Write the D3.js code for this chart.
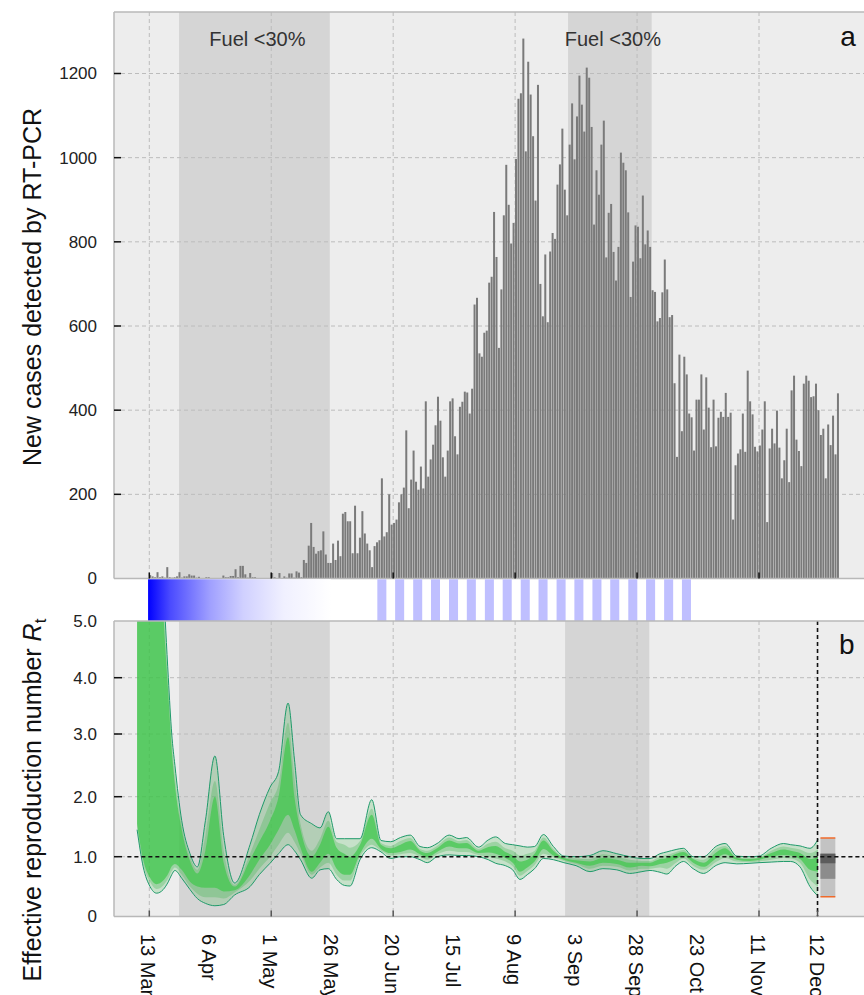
<!DOCTYPE html>
<html><head><meta charset="utf-8">
<script src="https://cdn.jsdelivr.net/npm/d3@7"></script>
<style>body{margin:0;background:#fff}svg{display:block}text{font-family:"Liberation Sans",Arial,Helvetica,sans-serif}</style>
</head><body><svg id="c" width="864" height="995"></svg>
<script>
// ---------- DATA ----------
// daily new cases (day 0 = 13 Mar)
const newCases = [
 8,5,3,15,3,5,2,27,3,2, 3,5,15,2,5,5,10,7,7,2, 4,1,0,3,3,1,0,1,1,0, 7,3,3,6,6,22,3,30,30,10,
 2,13,3,3,1,1,0,1,0,0, 13,3,1,13,1,5,2,12,12,2, 17,14,3,
 44,37,78,132,75,59,65,67,112,57, 37,37,83,44,90,53,154,158,136,136, 60,173,60,97,160,107,83,
 67,27,77,86,91,238,100,110,200,128, 132,140,181,200,216,352,167,235,304,230, 211,266,214,421,242,283,318,364,432,375,
 288,242,304,421,428,338,295,408,420,444, 442,392,451,
 651,667,535,527,584,589,703,717,871,764, 548,687,863,983,888,796,845,997,1140,1153,
 1283,1015,1228,1150,1051,898,1173,700,623,770, 609,777,821,807,936,984,1069,924,863,1031,
 1129,996,1098,1195,1126,1062,1214,1190,1073,841, 970,912,1031,1088,763,869,890,776,708,788,
 1012,988,970,870,669,753,839,836,761,910, 794,827,788,685,681,611,619,680,758,687,
 621,626,464,289,532,350,527,485,392,383, 304,425,425,485,354,478,406,312,425,314,
 382,396,384,441,384,394,140,269,297,307, 392,301,494,421,390,313,302,316,354,421,
 134,309,356,321,399,311,238,281,356,229, 447,482,330,303,267,463,482,470,431,433,
 463,400,341,356,238,366,317,387,295,440
];
const caseTicks = [200,400,600,800,1000,1200];

// Effective reproduction number quantile bands
const rtDay = [-5,-2.5,0.3,3,5.7,7.8,9.2,10.5,13.3,16.7, 19.7,23,26.9,30.5,35,41.3,45.1,49.5,53,56.9,
 59.5,62,66.6,70,73.4,76.8,80,82.3,86.4,91.2, 95,
 99,103,107,111,114,118,123,127,130,135, 139,142,146,149,152,155,158,161.6,165.7,170,
 175,180.7,186,191.7,197,202,205.3,209.4,212.2,216, 219,223,227.2,232.7,236.1,240.9,246.3,250,255,260,
 263,266.8,270.9,274.2];
const rtLo95 = [1.45,0.83,0.5,0.39,0.45,0.58,0.7,0.77,0.64,0.45, 0.3,0.22,0.18,0.2,0.36,0.5,0.7,0.89,1.05,1.2,
 1.1,0.95,0.64,0.78,0.8,0.62,0.52,0.51,0.95,1.15, 1.08,
 0.97,1.0,1.0,0.95,0.9,1.0,1.03,1.02,1.02,1.0, 0.95,0.89,0.85,0.78,0.62,0.7,0.8,0.97,0.95,0.9,
 0.85,0.75,0.8,0.78,0.72,0.75,0.77,0.74,0.71,0.85, 0.92,0.8,0.72,0.86,0.9,0.88,0.89,0.9,0.91,0.92,
 0.92,0.83,0.5,0.34];
const rtLo75 = [1.5,0.88,0.58,0.46,0.52,0.64,0.76,0.82,0.7,0.5, 0.38,0.32,0.32,0.3,0.4,0.6,0.8,1.0,1.2,1.4,
 1.25,1.05,0.7,0.82,0.9,0.7,0.6,0.6,1.0,1.2, 1.1,
 1.02,1.04,1.06,1.0,0.95,1.04,1.1,1.08,1.08,1.03, 1.0,0.97,0.92,0.84,0.68,0.76,0.86,1.05,0.99,0.93,
 0.88,0.8,0.85,0.83,0.77,0.8,0.8,0.82,0.8,0.9, 0.97,0.85,0.78,0.92,0.98,0.92,0.91,0.92,0.95,0.98,
 0.97,0.9,0.62,0.5];
const rtLo50 = [1.55,0.95,0.65,0.54,0.6,0.72,0.84,0.88,0.78,0.58, 0.5,0.48,0.48,0.42,0.44,0.7,0.95,1.2,1.45,1.7,
 1.45,1.15,0.75,0.9,1.05,0.8,0.7,0.7,1.05,1.3, 1.13,
 1.06,1.08,1.12,1.04,0.99,1.08,1.17,1.14,1.14,1.06, 1.07,1.05,0.98,0.9,0.75,0.82,0.92,1.13,1.02,0.95,
 0.9,0.85,0.9,0.88,0.82,0.85,0.84,0.88,0.9,0.96, 1.02,0.9,0.83,0.98,1.04,0.95,0.93,0.95,1.0,1.03,
 1.02,0.96,0.78,0.75];
const rtHi50 = [12,12,11,8,5.2,3.7,2.75,2.2,1.45,0.93, 0.72,1.1,2.0,0.9,0.5,0.95,1.25,1.6,2.0,2.95,
 2.0,1.45,1.0,1.2,1.5,1.15,1.05,1.0,1.2,1.7, 1.2,
 1.14,1.2,1.26,1.1,1.06,1.14,1.27,1.22,1.23,1.1, 1.16,1.18,1.08,1.02,0.92,0.95,1.05,1.27,1.1,0.98,
 0.94,0.92,0.98,0.95,0.9,0.9,0.9,0.96,0.98,1.05, 1.08,0.96,0.9,1.08,1.14,0.98,0.96,0.98,1.06,1.12,
 1.1,1.06,0.96,1.0];
const rtHi75 = [12.5,12.5,11.5,8.5,5.5,3.85,2.88,2.35,1.52,1.0, 0.78,1.35,2.25,1.1,0.53,1.05,1.45,1.9,2.2,3.2,
 2.3,1.55,1.1,1.3,1.6,1.25,1.2,1.15,1.26,1.8, 1.23,
 1.18,1.26,1.31,1.13,1.1,1.18,1.32,1.26,1.28,1.13, 1.22,1.25,1.14,1.1,1.02,1.05,1.1,1.32,1.13,0.99,
 0.97,0.96,1.04,1.0,0.95,0.93,0.93,1.0,1.03,1.08, 1.11,0.98,0.95,1.14,1.18,1.0,0.98,0.99,1.1,1.17,
 1.15,1.12,1.06,1.12];
const rtHi95 = [13,13,12,9,5.8,4.0,3.0,2.5,1.6,1.05, 0.83,1.6,2.65,1.35,0.56,1.2,1.7,2.15,2.4,3.55,
 2.6,1.7,1.55,1.48,1.75,1.3,1.3,1.3,1.3,1.95, 1.27,
 1.25,1.32,1.36,1.17,1.15,1.22,1.36,1.3,1.32,1.16, 1.28,1.33,1.22,1.2,1.18,1.16,1.17,1.37,1.17,1.01,
 1.0,1.02,1.1,1.05,1.0,0.97,0.97,1.05,1.08,1.12, 1.14,1.0,1.0,1.18,1.22,1.01,1.0,1.01,1.14,1.22,
 1.2,1.18,1.14,1.29];
const rtTicks = [0,1,2,3,4,5];
const rtTickLabels = ["0","1.0","2.0","3.0","4.0","5.0"];

// projection box at the end (R quantiles)
const projDays = [275.2, 281.3];
const projQ = {lo95:0.33, lo75:0.63, lo50:0.89, hi50:1.05, hi75:1.05, hi95:1.31};

// date axis
const tickDays = [0,25,50,75,100,125,150,175,200,225,250,274];
const tickLabels = ["13 Mar","6 Apr","1 May","26 May","20 Jun","15 Jul","9 Aug","3 Sep","28 Sep","23 Oct","11 Nov","12 Dec"];
const gridDays = [0,50,100,150,200,250];
const lastDay = 274;

// periods with fuel < 30%
const fuelTop = [[12.2,74],[171.7,206]];
const fuelBot = [[12.2,74],[170.5,205]];
const fuelLabel = "Fuel <30%";

// intervention strip: gradient then weekly stripes
const gradRange = [-0.5, 74.5];
const gradStops = [[0,"#0000ff"],[0.12,"#4a4aff"],[0.34,"#a0a0ff"],[0.52,"#d0d0ff"],[0.74,"#f0f0ff"],[1,"#ffffff"]];
const stripeStarts = [93.5,100.8,108.2,115.5,122.9,130.2,137.6,144.9,152.3,159.6,167.0,174.3,181.7,189.0,196.4,203.7,211.1,218.4];
const stripeLen = 3.7;

// ---------- DRAW ----------
const svg = d3.select('#c');
const x = d3.scaleLinear().domain([0,250]).range([149.3,759.0]);
const topP = {l:114,t:12,b:578.5,r:864};
const botP = {l:114,t:621,b:916.5,r:864};
const yTop = d3.scaleLinear().domain([0,1200]).range([topP.b,73.5]);
const yBot = d3.scaleLinear().domain([0,1,2,3,4,5]).range([916.5,856.7,796.7,734,677.7,621]);

const BG = "#ededed", SHADE = "#d5d5d5", GRID = "#bcbcbc", FRAME = "#b8b8b8";
const defs = svg.append('defs');
defs.append('clipPath').attr('id','clipB').append('rect')
  .attr('x',botP.l).attr('y',botP.t).attr('width',botP.r-botP.l).attr('height',botP.b-botP.t);
const lg = defs.append('linearGradient').attr('id','grad').attr('gradientUnits','userSpaceOnUse')
  .attr('x1',x(gradRange[0])).attr('x2',x(gradRange[1])).attr('y1',0).attr('y2',0);
lg.selectAll('stop').data(gradStops).join('stop').attr('offset',d=>d[0]).attr('stop-color',d=>d[1]);

function panelBase(P, fuel, yScale, yVals){
  const g = svg.append('g');
  g.append('rect').attr('x',P.l).attr('y',P.t).attr('width',P.r-P.l).attr('height',P.b-P.t).attr('fill',BG);
  g.selectAll('rect.fuel').data(fuel).join('rect').attr('class','fuel')
    .attr('x',d=>x(d[0])).attr('width',d=>x(d[1])-x(d[0])).attr('y',P.t).attr('height',P.b-P.t).attr('fill',SHADE);
  g.selectAll('line.hg').data(yVals).join('line').attr('class','hg')
    .attr('x1',P.l).attr('x2',P.r).attr('y1',d=>yScale(d)).attr('y2',d=>yScale(d))
    .attr('stroke',GRID).attr('stroke-width',1).attr('stroke-dasharray','4,3');
  g.selectAll('line.vg').data(gridDays).join('line').attr('class','vg')
    .attr('x1',d=>x(d)).attr('x2',d=>x(d)).attr('y1',P.t).attr('y2',P.b)
    .attr('stroke',GRID).attr('stroke-width',1).attr('stroke-dasharray','4,3');
  return g;
}
function frame(P){
  const f = svg.append('g').attr('stroke',FRAME).attr('stroke-width',1.5).attr('fill','none');
  f.append('line').attr('x1',P.l).attr('x2',P.l).attr('y1',P.t).attr('y2',P.b);
  f.append('line').attr('x1',P.l).attr('x2',P.r).attr('y1',P.t).attr('y2',P.t);
  f.append('line').attr('x1',P.l).attr('x2',P.r).attr('y1',P.b).attr('y2',P.b);
}

// ---- top panel ----
panelBase(topP, fuelTop, yTop, caseTicks);
svg.append('g').selectAll('rect').data(newCases).join('rect')
  .attr('x',(d,i)=>x(i)-0.1).attr('width',2.0)
  .attr('y',d=>yTop(d)).attr('height',d=>yTop(0)-yTop(d)).attr('fill','#7a7a7a');
frame(topP);
svg.append('g').selectAll('line').data(caseTicks).join('line')
  .attr('x1',topP.l).attr('x2',topP.l+7).attr('y1',d=>yTop(d)).attr('y2',d=>yTop(d))
  .attr('stroke','#111').attr('stroke-width',1.5);
svg.append('g').selectAll('line').data(gridDays).join('line')
  .attr('x1',d=>x(d)).attr('x2',d=>x(d)).attr('y1',topP.b-6).attr('y2',topP.b)
  .attr('stroke','#111').attr('stroke-width',1.5);
svg.append('g').selectAll('text').data([0].concat(caseTicks)).join('text')
  .attr('x',97).attr('y',d=>yTop(d)).attr('dy','0.35em').attr('text-anchor','end')
  .attr('font-size',17).attr('fill','#222').text(d=>d);
svg.append('text').attr('transform','translate(41,287) rotate(-90)').attr('text-anchor','middle')
  .attr('font-size',25).attr('fill','#111').text('New cases detected by RT-PCR');
svg.append('g').selectAll('text').data(fuelTop).join('text')
  .attr('x',d=>(x(d[0])+x(d[1]))/2+3).attr('y',46).attr('text-anchor','middle')
  .attr('font-size',20).attr('fill','#333').text(fuelLabel);
svg.append('text').attr('x',848).attr('y',45.5).attr('text-anchor','middle').attr('font-size',28).attr('fill','#111').text('a');

// ---- strip ----
const sT = topP.b+0.8, sB = botP.t;
svg.append('rect').attr('x',x(gradRange[0])).attr('width',x(gradRange[1])-x(gradRange[0]))
  .attr('y',sT).attr('height',sB-sT).attr('fill','url(#grad)');
svg.append('g').selectAll('rect').data(stripeStarts).join('rect')
  .attr('x',d=>x(d)).attr('width',d=>x(d+stripeLen)-x(d)).attr('y',sT).attr('height',sB-sT).attr('fill','#bfbfff');

// ---- bottom panel ----
panelBase(botP, fuelBot, yBot, [1,2,3,4]);
const rows = rtDay.map((d,i)=>({d, lo95:rtLo95[i], lo75:rtLo75[i], lo50:rtLo50[i], hi50:rtHi50[i], hi75:rtHi75[i], hi95:rtHi95[i]}));
const gb = svg.append('g').attr('clip-path','url(#clipB)');
const area = (lo,hi)=>d3.area().x(r=>x(r.d)).y0(r=>yBot(r[lo])).y1(r=>yBot(r[hi])).curve(d3.curveMonotoneX);
const line = k=>d3.line().x(r=>x(r.d)).y(r=>yBot(r[k])).curve(d3.curveMonotoneX);
gb.append('path').datum(rows).attr('d',area('lo95','hi95')).attr('fill','#3cb44b').attr('fill-opacity',0.22);
gb.append('path').datum(rows).attr('d',area('lo75','hi75')).attr('fill','#3cb44b').attr('fill-opacity',0.3);
gb.append('path').datum(rows).attr('d',area('lo50','hi50')).attr('fill','#3ec84a').attr('fill-opacity',0.7);
['lo95','hi95'].forEach(k=>gb.append('path').datum(rows).attr('d',line(k)).attr('fill','none')
  .attr('stroke','#1f9a6a').attr('stroke-width',1));
// projection box
const px0 = x(projDays[0]), pw = x(projDays[1])-x(projDays[0]);
const box = (a,b,c)=>gb.append('rect').attr('x',px0).attr('width',pw).attr('y',yBot(projQ[b])).attr('height',yBot(projQ[a])-yBot(projQ[b])).attr('fill',c);
box('lo95','hi95','#c3c3c3'); box('lo75','hi75','#8c8c8c'); box('lo50','hi50','#5c5c5c');
['lo95','hi95'].forEach(k=>gb.append('line').attr('x1',px0).attr('x2',px0+pw).attr('y1',yBot(projQ[k])).attr('y2',yBot(projQ[k]))
  .attr('stroke','#f06a2a').attr('stroke-width',1.5));
// reference lines
svg.append('line').attr('x1',x(-9)).attr('x2',botP.r).attr('y1',yBot(1)).attr('y2',yBot(1))
  .attr('stroke','#111').attr('stroke-width',1.6).attr('stroke-dasharray','4,3');
svg.append('line').attr('x1',x(lastDay)).attr('x2',x(lastDay)).attr('y1',botP.t).attr('y2',botP.b)
  .attr('stroke','#111').attr('stroke-width',1.6).attr('stroke-dasharray','4,3');
frame(botP);
svg.append('g').selectAll('line').data([1,2,3,4]).join('line')
  .attr('x1',botP.l).attr('x2',botP.l+8).attr('y1',d=>yBot(d)).attr('y2',d=>yBot(d))
  .attr('stroke','#111').attr('stroke-width',1.5);
svg.append('g').selectAll('line').data(gridDays.concat([lastDay])).join('line')
  .attr('x1',d=>x(d)).attr('x2',d=>x(d)).attr('y1',botP.b-6).attr('y2',botP.b)
  .attr('stroke','#555').attr('stroke-width',1.5);
svg.append('g').selectAll('text').data(rtTicks).join('text')
  .attr('x',97).attr('y',d=>yBot(d)).attr('dy','0.35em').attr('text-anchor','end')
  .attr('font-size',17).attr('fill','#222').text((d,i)=>rtTickLabels[i]);
const rtT = svg.append('text').attr('transform','translate(41,800) rotate(-90)').attr('text-anchor','middle')
  .attr('font-size',25).attr('fill','#111');
rtT.append('tspan').text('Effective reproduction number ');
rtT.append('tspan').attr('font-style','italic').text('R');
rtT.append('tspan').attr('font-size',17).attr('dy',5).text('t');
svg.append('text').attr('x',846.7).attr('y',654).attr('text-anchor','middle').attr('font-size',28).attr('fill','#111').text('b');

// date labels
svg.append('g').selectAll('text').data(tickDays).join('text')
  .attr('transform',d=>`translate(${x(d)-1},934) rotate(90)`).attr('dominant-baseline','central')
  .attr('font-size',20).attr('fill','#111').text((d,i)=>tickLabels[i]);
</script></body></html>
